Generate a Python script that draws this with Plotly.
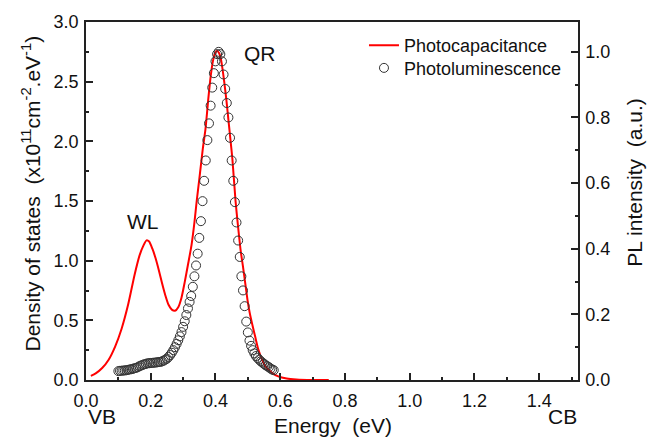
import plotly.graph_objects as go

# Photocapacitance (density of states) curve, left axis
pc_energy = [0.015, 0.03, 0.05, 0.07, 0.09, 0.11, 0.13, 0.15, 0.165, 0.178,
             0.187, 0.195, 0.205, 0.215, 0.225, 0.235, 0.245, 0.255, 0.265,
             0.275, 0.285, 0.295, 0.305, 0.316, 0.326, 0.335, 0.342, 0.349, 0.355,
             0.361, 0.369, 0.378, 0.385, 0.392, 0.399, 0.405, 0.411, 0.416, 0.421,
             0.427, 0.434, 0.440, 0.446, 0.452, 0.462, 0.470, 0.478, 0.485, 0.491,
             0.499, 0.506, 0.515, 0.523, 0.532, 0.553, 0.575, 0.594, 0.62, 0.65,
             0.70, 0.75]
pc_dos = [0.035, 0.055, 0.10, 0.17, 0.28, 0.43, 0.63, 0.88, 1.04, 1.13,
          1.17, 1.16, 1.10, 1.02, 0.92, 0.81, 0.71, 0.63, 0.59,
          0.58, 0.61, 0.69, 0.82, 0.98, 1.13, 1.32, 1.50, 1.66, 1.80,
          1.94, 2.10, 2.36, 2.54, 2.67, 2.74, 2.76, 2.74, 2.70, 2.62,
          2.50, 2.34, 2.18, 2.02, 1.86, 1.50, 1.28, 1.08, 0.95, 0.83,
          0.67, 0.56, 0.45, 0.36, 0.26, 0.12, 0.06, 0.03, 0.012, 0.004,
          0.0, 0.0]

# Photoluminescence points, right axis
pl_energy = [0.100, 0.105, 0.110, 0.115, 0.120, 0.125, 0.130, 0.135, 0.140, 0.145,
             0.150, 0.155, 0.160, 0.165, 0.170, 0.175, 0.180, 0.185, 0.190, 0.195,
             0.200, 0.205, 0.210, 0.215, 0.220, 0.225, 0.230, 0.235, 0.240, 0.245,
             0.250, 0.255, 0.260, 0.265, 0.270, 0.275, 0.280, 0.285, 0.290, 0.295,
             0.300, 0.305, 0.310, 0.315, 0.320, 0.325, 0.330, 0.335, 0.340, 0.345,
             0.350, 0.355, 0.360, 0.365, 0.370, 0.375, 0.380, 0.385, 0.390, 0.395,
             0.400, 0.405, 0.410, 0.415, 0.420, 0.425, 0.430, 0.435, 0.440, 0.445,
             0.450, 0.455, 0.460, 0.465, 0.470, 0.475, 0.480, 0.485, 0.490, 0.495,
             0.500, 0.505, 0.510, 0.515, 0.520, 0.525, 0.530, 0.535, 0.540, 0.545,
             0.550, 0.555, 0.560, 0.565, 0.570, 0.575, 0.580]
pl_intensity = [0.027, 0.028, 0.028, 0.029, 0.029, 0.030, 0.031, 0.032, 0.033, 0.034,
                0.036, 0.037, 0.039, 0.042, 0.044, 0.046, 0.048, 0.049, 0.051, 0.051,
                0.052, 0.052, 0.053, 0.053, 0.054, 0.055, 0.055, 0.057, 0.059, 0.062,
                0.065, 0.070, 0.076, 0.083, 0.091, 0.100, 0.110, 0.121, 0.133, 0.146,
                0.162, 0.179, 0.198, 0.218, 0.238, 0.256, 0.284, 0.316, 0.349, 0.385,
                0.433, 0.484, 0.545, 0.607, 0.669, 0.731, 0.782, 0.836, 0.891, 0.935,
                0.971, 0.993, 1.000, 0.993, 0.971, 0.931, 0.887, 0.844, 0.800, 0.738,
                0.669, 0.607, 0.542, 0.480, 0.425, 0.375, 0.316, 0.273, 0.225, 0.178,
                0.145, 0.120, 0.104, 0.091, 0.081, 0.073, 0.067, 0.062, 0.057, 0.053,
                0.049, 0.045, 0.042, 0.039, 0.035, 0.032, 0.030]

x_ticks = [0.0, 0.2, 0.4, 0.6, 0.8, 1.0, 1.2, 1.4]
y_ticks = [0.0, 0.5, 1.0, 1.5, 2.0, 2.5, 3.0]
y2_ticks = [0.0, 0.2, 0.4, 0.6, 0.8, 1.0]

FONT = "Liberation Sans, Arial, sans-serif"
AX = "#222222"
TXT = "#111111"

fig = go.Figure()
fig.add_trace(go.Scatter(x=pc_energy, y=pc_dos, mode="lines", name="Photocapacitance",
                         legend="legend",
                         line=dict(color="#ff0000", width=2, shape="spline", smoothing=0.6)))
fig.add_trace(go.Scatter(x=pl_energy, y=pl_intensity, mode="markers", name="Photoluminescence",
                         yaxis="y2", legend="legend2",
                         marker=dict(symbol="circle-open", size=9, color="#333333",
                                     line=dict(width=1, color="#333333"))))

common = dict(showgrid=False, zeroline=False, showline=True, linecolor=AX, linewidth=1.5,
              ticks="inside", ticklen=7, tickwidth=1.5, tickcolor=AX,
              tickfont=dict(family=FONT, size=18, color=TXT))

leg = dict(xanchor="left", yanchor="middle", bgcolor="rgba(0,0,0,0)",
           font=dict(size=18, family=FONT, color=TXT), itemwidth=30)

fig.update_layout(
    width=654, height=439,
    margin=dict(l=86, r=75.5, t=20, b=58.5),
    paper_bgcolor="white", plot_bgcolor="white",
    font=dict(family=FONT, size=18, color=TXT),
    showlegend=True,
    legend=dict(x=0.565, y=0.934, **leg),
    legend2=dict(x=0.565, y=0.871, **leg),
    xaxis=dict(range=[0, 1.52], tickvals=x_ticks, tickformat=".1f", mirror=True,
               minor=dict(dtick=0.1, ticklen=3.5, tickwidth=1.5, tickcolor=AX, ticks="inside"),
               ticklabelstandoff=4, **common),
    yaxis=dict(range=[0, 3.0], tickvals=y_ticks, tickformat=".1f",
               minor=dict(dtick=0.25, ticklen=3.5, tickwidth=1.5, tickcolor=AX, ticks="inside"),
               ticklabelstandoff=2, **common),
    yaxis2=dict(range=[0, 3.0 / 2.75], tickvals=y2_ticks, tickformat=".1f",
                overlaying="y", side="right",
                minor=dict(dtick=0.1, ticklen=3.5, tickwidth=1.5, tickcolor=AX, ticks="inside"),
                ticklabelstandoff=2, **common),
)

ann = [
    dict(text="WL", x=0.177, y=1.33, xref="x", yref="y", showarrow=False,
         font=dict(size=21, family=FONT, color=TXT)),
    dict(text="QR", x=0.537, y=2.736, xref="x", yref="y", showarrow=False,
         font=dict(size=21, family=FONT, color=TXT)),
    dict(text="VB", x=0.0, y=-0.102, xref="paper", yref="paper", showarrow=False,
         yanchor="middle", font=dict(size=21, family=FONT, color=TXT)),
    dict(text="CB", x=1.002, y=-0.102, xref="paper", yref="paper", showarrow=False,
         yanchor="middle", font=dict(size=21, family=FONT, color=TXT)),
    dict(text="Energy\u00a0 (eV)", x=0.503, y=-0.128, xref="paper", yref="paper",
         showarrow=False, yanchor="middle", font=dict(size=21, family=FONT, color=TXT)),
    dict(text="Density of states\u00a0 (x10<sup>11</sup>cm<sup>-2</sup>.eV<sup>-1</sup>)",
         x=-0.111, y=0.522, xref="paper", yref="paper", textangle=-90, showarrow=False,
         xanchor="center", yanchor="middle", font=dict(size=21, family=FONT, color=TXT)),
    dict(text="PL intensity\u00a0 (a.u.)", x=1.115, y=0.55, xref="paper", yref="paper",
         textangle=-90, showarrow=False, xanchor="center", yanchor="middle",
         font=dict(size=21, family=FONT, color=TXT)),
]
fig.update_layout(annotations=ann)

fig.write_html("out.html")
